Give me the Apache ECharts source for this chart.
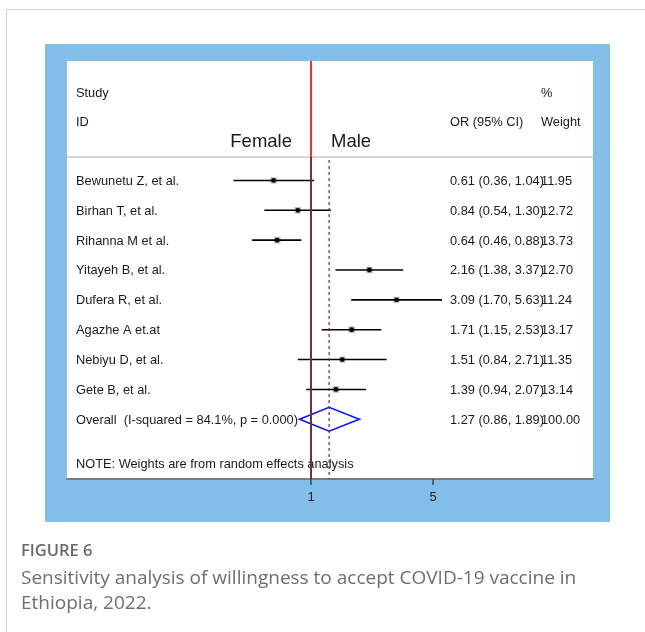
<!DOCTYPE html>
<html>
<head>
<meta charset="utf-8">
<script src="https://cdn.jsdelivr.net/npm/echarts@6/dist/echarts.min.js"></script>
<style>
html,body{margin:0;padding:0;background:#fff;}
#chart{width:645px;height:632px;}
</style>
</head>
<body>
<div id="chart"></div>
<script>
// ---- data ----
const studies = ['Bewunetu Z, et al.', 'Birhan T, et al.', 'Rihanna M et al.', 'Yitayeh B, et al.', 'Dufera R, et al.', 'Agazhe A et.at', 'Nebiyu D, et al.', 'Gete B, et al.'];
const oddsRatio = [0.61, 0.84, 0.64, 2.16, 3.09, 1.71, 1.51, 1.39];
const ciLower = [0.36, 0.54, 0.46, 1.38, 1.70, 1.15, 0.84, 0.94];
const ciUpper = [1.04, 1.30, 0.88, 3.37, 5.63, 2.53, 2.71, 2.07];
const weights = [11.95, 12.72, 13.73, 12.70, 11.24, 13.17, 11.35, 13.14];
const overallOR = 1.27;
const overallLower = 0.86;
const overallUpper = 1.89;
const overallWeight = 100.00;
const overallLabel = 'Overall  (I-squared = 84.1%, p = 0.000)';
const noteText = 'NOTE: Weights are from random effects analysis';
const xTickValues = [1, 5];
const captionTitle = 'FIGURE 6';
const captionText = 'Sensitivity analysis of willingness to accept COVID-19 vaccine in\nEthiopia, 2022.';

// ---- layout ----
const ln = Math.log;
const X_MIN = -3.219, X_MAX = 3.720;
const Y_MIN = -3, Y_MAX = 11;
const SEP_Y = 0.215;
const COL_STUDY = 76, COL_OR = 450, COL_W = 541;
const FONT = '"Liberation Sans", Arial, sans-serif';
const TXT = '#1a1a1a';
const FS = 12.8;
const fmt = v => v.toFixed(2);

const studyData = studies.map((s, i) => [i + 1, ln(oddsRatio[i]), ln(ciLower[i]), ln(ciUpper[i]), weights[i]]);

// text rows: [row, text, x, align, fontSize]
const textRows = [
  [-1.9, 'Study', COL_STUDY, 'left', FS],
  [-0.94, 'ID', COL_STUDY, 'left', FS],
  [-1.9, '%', COL_W, 'left', FS],
  [-0.94, 'OR (95% CI)', COL_OR, 'left', FS],
  [-0.94, 'Weight', COL_W, 'left', FS],
  [-0.3, 'Female', 292, 'right', 18.5],
  [-0.3, 'Male', 331, 'left', 18.5]
];
studies.forEach((s, i) => {
  textRows.push([i + 1.03, s, COL_STUDY, 'left', FS]);
  textRows.push([i + 1.03, fmt(oddsRatio[i]) + ' (' + fmt(ciLower[i]) + ', ' + fmt(ciUpper[i]) + ')', COL_OR, 'left', FS]);
  textRows.push([i + 1.03, fmt(weights[i]), COL_W, 'left', FS]);
});
textRows.push([9.03, overallLabel, COL_STUDY, 'left', FS]);
textRows.push([9.03, fmt(overallOR) + ' (' + fmt(overallLower) + ', ' + fmt(overallUpper) + ')', COL_OR, 'left', FS]);
textRows.push([9.03, fmt(overallWeight), COL_W, 'left', FS]);
textRows.push([10.53, noteText, COL_STUDY, 'left', FS]);

const chart = echarts.init(document.getElementById('chart'), null, {renderer: 'canvas'});

const option = {
  animation: false,
  backgroundColor: '#fff',
  grid: {left: 67, right: 52, top: 61, bottom: 153, show: true, backgroundColor: '#fff', borderWidth: 0, containLabel: false},
  xAxis: {
    type: 'value', min: X_MIN, max: X_MAX,
    axisLine: {show: true, onZero: false, lineStyle: {color: '#7a7a7a', width: 2}},
    axisTick: {show: true, customValues: xTickValues.map(ln), length: 6, lineStyle: {color: '#444', width: 1.5}},
    axisLabel: {show: true, customValues: xTickValues.map(ln), margin: 12, fontSize: 13, color: '#222', fontFamily: FONT,
      formatter: v => String(xTickValues.find(t => Math.abs(ln(t) - v) < 1e-6))},
    splitLine: {show: false}
  },
  yAxis: {type: 'value', inverse: true, min: Y_MIN, max: Y_MAX, show: false, splitLine: {show: false}},
  graphic: [
    {type: 'rect', z: -10, shape: {x: 45, y: 44, width: 565, height: 478}, style: {fill: '#82bee8'}},
    {type: 'line', z: -10, shape: {x1: 6.5, y1: 9.5, x2: 645, y2: 9.5}, style: {stroke: '#cfcfcf', lineWidth: 1}},
    {type: 'line', z: -10, shape: {x1: 6.5, y1: 9.5, x2: 6.5, y2: 632}, style: {stroke: '#cfcfcf', lineWidth: 1}},
    {type: 'text', left: 21, top: 543, style: {text: captionTitle, font: '600 16.5px "Open Sans", Lato, sans-serif', fill: '#6a6a6a'}},
    {type: 'text', left: 21, top: 566.5, style: {text: captionText, font: '19px "Open Sans", Lato, sans-serif', fill: '#6e6e6e', lineHeight: 25}}
  ],
  series: [
    {type: 'line', symbol: 'none', silent: true, data: [[X_MIN, SEP_Y], [X_MAX, SEP_Y]], lineStyle: {color: '#d6d6d6', width: 2}},
    {type: 'line', symbol: 'none', silent: true, data: [[0, Y_MIN], [0, SEP_Y]], lineStyle: {color: '#ee3333', width: 2}},
    {type: 'line', symbol: 'none', silent: true, data: [[0, SEP_Y], [0, Y_MAX]], lineStyle: {color: '#6e3434', width: 2}},
    {type: 'line', symbol: 'none', silent: true, data: [[ln(overallOR), SEP_Y + 0.1], [ln(overallOR), Y_MAX]], lineStyle: {color: '#8b1c2c', width: 1.2, type: [3, 3]}},
    {
      type: 'custom', silent: true,
      data: studyData,
      encode: {x: [1, 2, 3], y: 0},
      renderItem: function (params, api) {
        const y = api.value(0);
        const p = api.coord([api.value(1), y]);
        const l = api.coord([api.value(2), y]);
        const h = api.coord([api.value(3), y]);
        const bs = Math.sqrt(api.value(4)) * 1.8;
        return {type: 'group', children: [
          {type: 'rect', shape: {x: p[0] - bs / 2, y: p[1] - bs / 2, width: bs, height: bs}, style: {fill: '#b8b8b8'}},
          {type: 'line', shape: {x1: l[0], y1: l[1], x2: h[0], y2: h[1]}, style: {stroke: '#000', lineWidth: 1.6}},
          {type: 'circle', shape: {cx: p[0], cy: p[1], r: 2.4}, style: {fill: '#000'}}
        ]};
      }
    },
    {
      type: 'custom', silent: true,
      data: [[9, ln(overallOR), ln(overallLower), ln(overallUpper)]],
      encode: {x: [1, 2, 3], y: 0},
      renderItem: function (params, api) {
        const y = api.value(0);
        const t = api.coord([api.value(1), y - 0.4]);
        const b = api.coord([api.value(1), y + 0.4]);
        const l = api.coord([api.value(2), y]);
        const h = api.coord([api.value(3), y]);
        return {type: 'polygon', shape: {points: [l, t, h, b]}, style: {fill: 'none', stroke: '#0a14ff', lineWidth: 1.6}};
      }
    },
    {
      type: 'custom', silent: true,
      data: textRows.map(r => [0, r[0]]),
      encode: {x: 0, y: 1},
      renderItem: function (params, api) {
        const r = textRows[params.dataIndex];
        const pt = api.coord([0, r[0]]);
        return {type: 'text', style: {text: r[1], x: r[2], y: pt[1], align: r[3], verticalAlign: 'middle',
          font: r[4] + 'px ' + FONT, fill: TXT}};
      }
    }
  ]
};
chart.setOption(option);
</script>
</body>
</html>
